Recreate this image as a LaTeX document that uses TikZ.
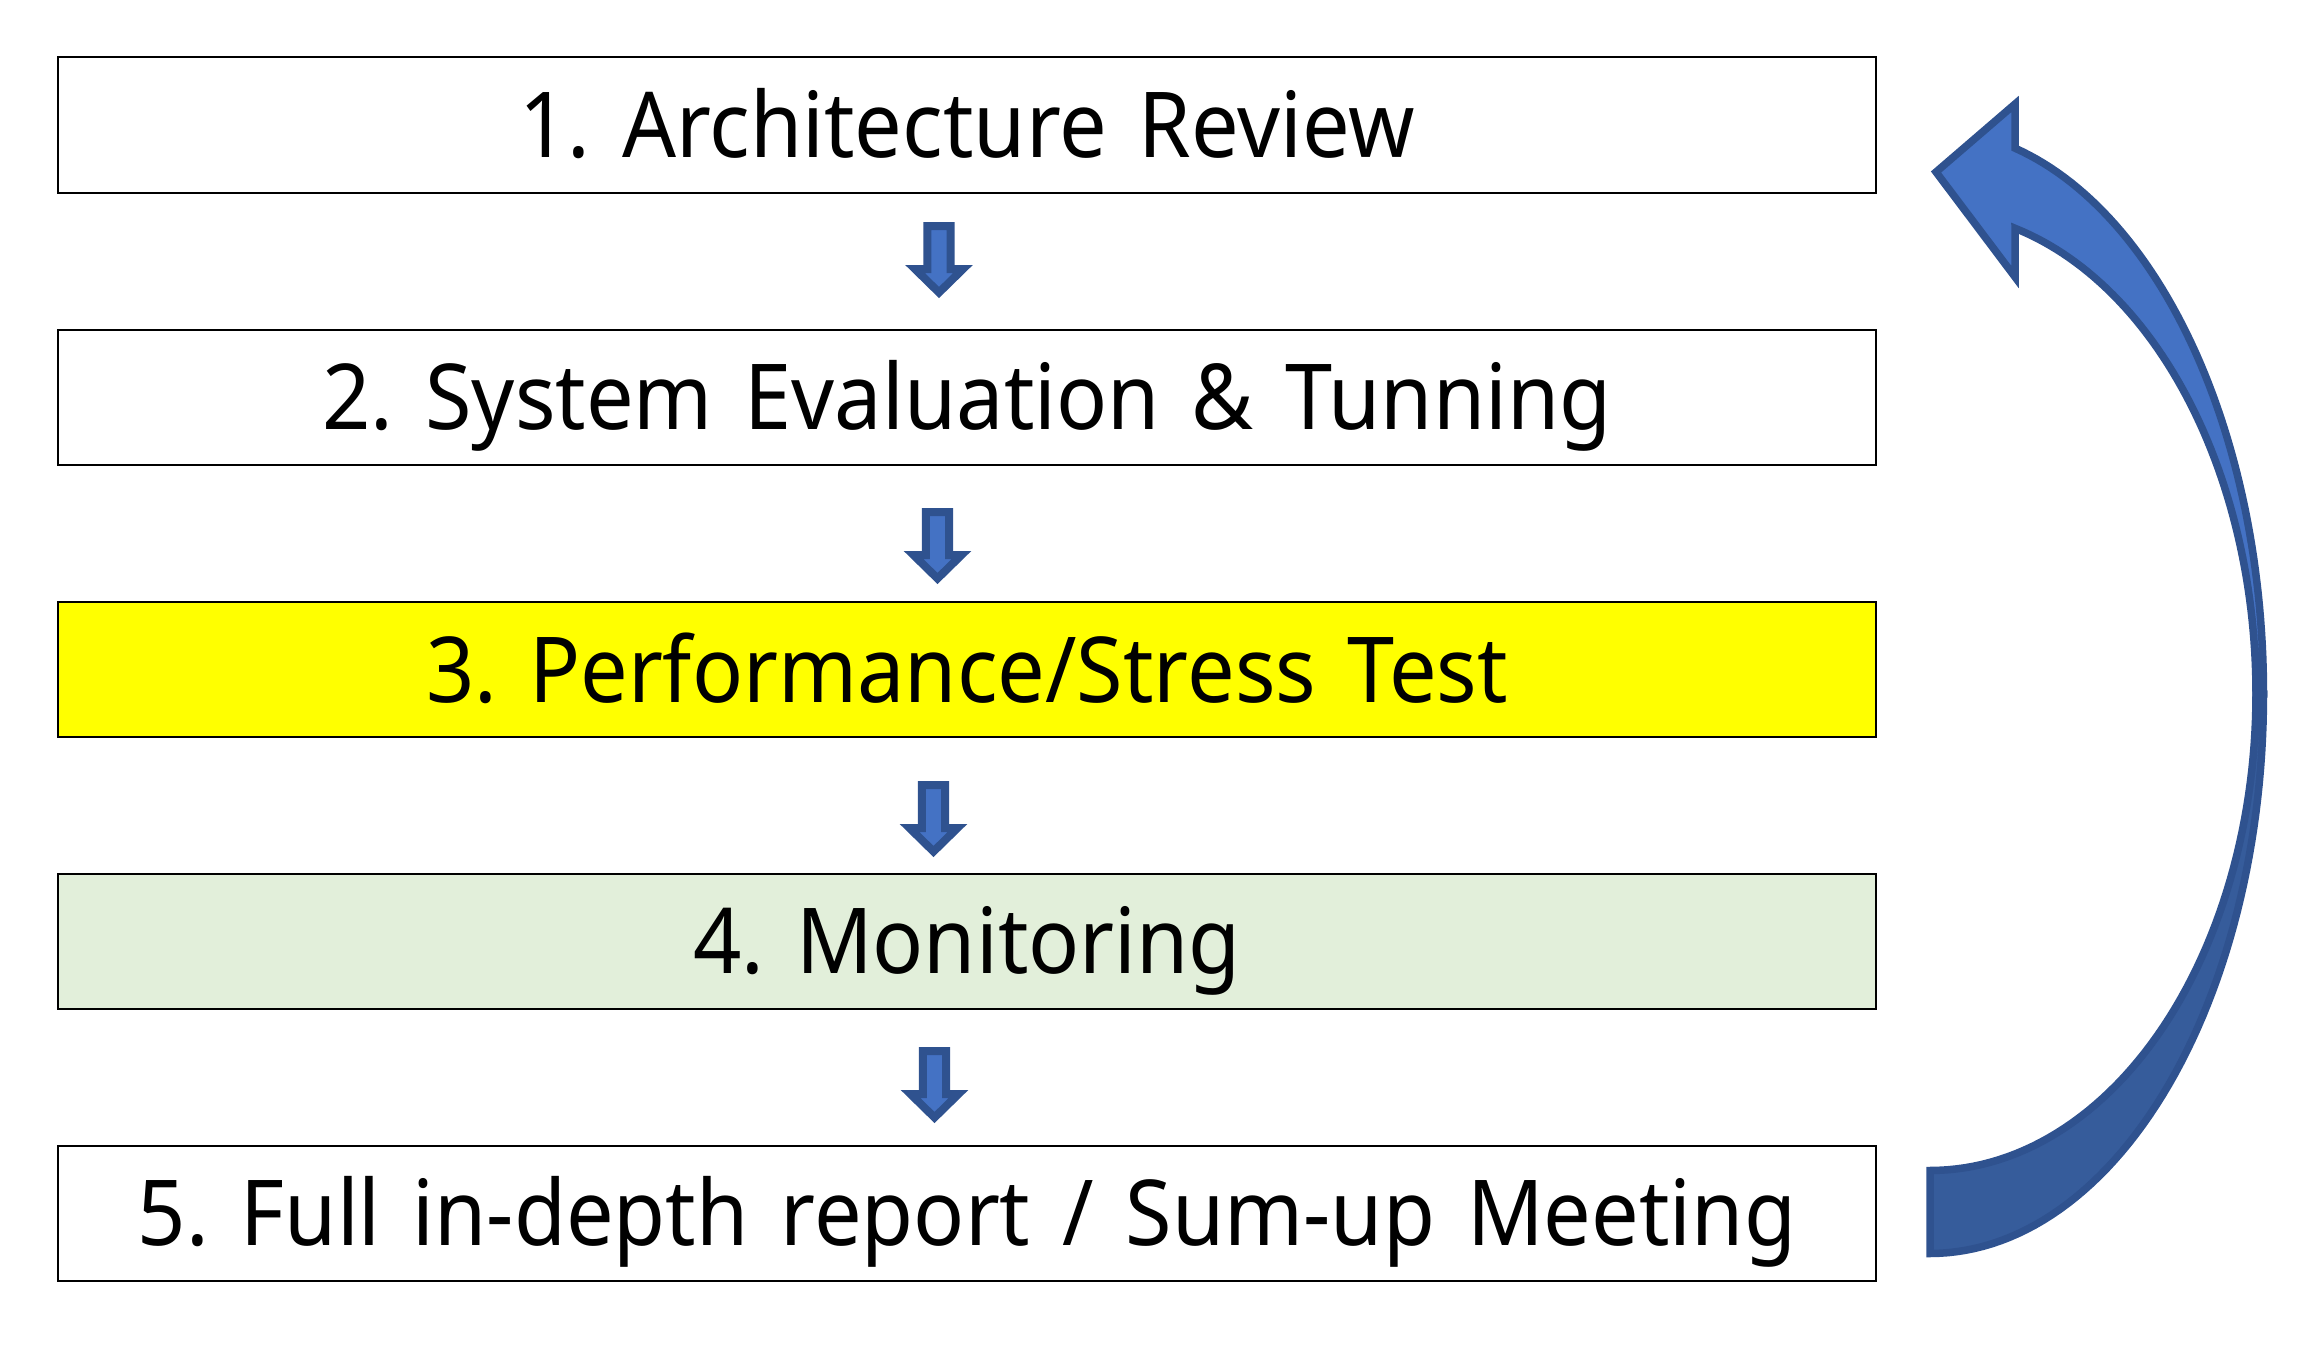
\documentclass[tikz,border=0pt]{standalone}
\usepackage{fontspec}
\setmainfont{Noto Sans}[FakeStretch=0.93, WordSpace=1.45]
\definecolor{accentblue}{HTML}{4472C4}
\definecolor{accentline}{HTML}{2F528F}
\definecolor{accentback}{HTML}{365C9B}
\definecolor{monogreen}{HTML}{E2EFDA}
\definecolor{testyellow}{HTML}{FFFF00}
\begin{document}
\begin{tikzpicture}[x=0.5pt,y=-0.5pt,
  stepbox/.style={draw=black, line width=1pt, minimum width=909pt, minimum height=67.5pt,
    inner sep=0pt, text height=32.5pt, text depth=0pt,
    font=\fontsize{45.5pt}{54pt}\selectfont\frenchspacing},
  smallarrow/.style={fill=accentblue, draw=accentline, line width=4pt, line join=miter},
  frontface/.style={fill=accentblue, draw=accentline, line width=3.75pt, line join=miter},
  backface/.style={fill=accentback, draw=accentline, line width=3.75pt, line join=miter},
  blockdown/.pic={\draw[smallarrow] (-11.7,4) -- (11.7,4) -- (11.7,47) -- (24,47) -- (0,70.5)
      -- (-24,47) -- (-11.7,47) -- cycle;}
]
\useasboundingbox (0,0) rectangle (2313,1354);

\node[stepbox, fill=white] (b1) at (967,125) {1. Architecture Review};
\node[stepbox, fill=white] (b2) at (967,397) {2. System Evaluation \& Tunning};
\node[stepbox, fill=testyellow] (b3) at (967,669.5) {3. Performance/Stress Test};
\node[stepbox, fill=monogreen] (b4) at (967,941) {4. Monitoring};
\node[stepbox, fill=white] (b5) at (967,1213) {5. Full in-depth report / Sum-up Meeting};

\pic (a1) at (939,222) {blockdown};
\pic (a2) at (937.5,508) {blockdown};
\pic (a3) at (933.5,781) {blockdown};
\pic (a4) at (934.5,1047) {blockdown};

% curved return arrow
\draw[backface] plot[domain=0:90, samples=60] ({1930+326*cos(\x)},{694+476.5*sin(\x)})
  -- plot[domain=90:0, samples=60] ({1930+333.5*cos(\x)},{694+559.5*sin(\x)}) -- cycle;
\draw[frontface] plot[domain=0:75.23, samples=60] ({1930+333.5*cos(\x)},{694-564.5*sin(\x)})
  -- (2015,104) -- (1936,172) -- (2015,277)
  -- plot[domain=74.89:0, samples=60] ({1930+326*cos(\x)},{694-482.4*sin(\x)}) -- cycle;
\end{tikzpicture}
\end{document}
